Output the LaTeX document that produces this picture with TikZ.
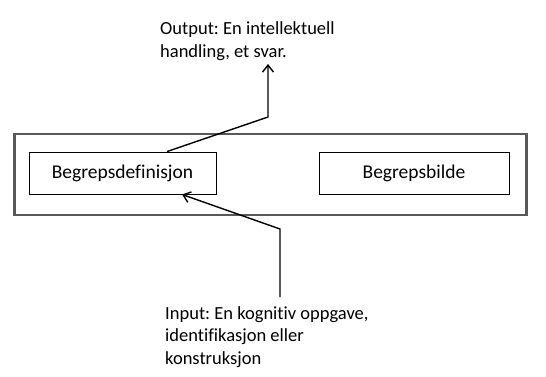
\documentclass[tikz,border=0pt]{standalone}
\usepackage{fontspec}
\setmainfont{Carlito}[Ligatures=NoCommon]
\frenchspacing
\usetikzlibrary{arrows.meta}
\begin{document}
\begin{tikzpicture}[x=1pt,y=-1pt,
  outerbox/.style={draw=black!65, line width=2.6pt, inner sep=0pt},
  box/.style={draw=black, line width=0.9pt, minimum height=42pt, inner sep=0pt, font=\fontsize{19.5}{23}\selectfont},
  lbl/.style={align=left, inner sep=0pt, font=\fontsize{18.5}{22.5}\selectfont},
  arr/.style={line width=1.4pt, -{Straight Barb[length=7pt,width=11pt,line width=1.4pt]}}]
\useasboundingbox (0,0) rectangle (546,376);
\node[outerbox, minimum width=512pt, minimum height=81pt, anchor=north west] (frame) at (13,132.5) {};
\node[box, minimum width=187pt] (def) at (122.5,173) {Begrepsdefinisjon};
\node[box, minimum width=190pt] (bilde) at (414,173) {Begrepsbilde};
\node[lbl, anchor=base west] (out) at (160,57) {Output: En intellektuell\\handling, et svar.};
\node[lbl, anchor=base west] (in) at (165,364) {Input: En kognitiv oppgave,\\identifikasjon eller\\konstruksjon};
\coordinate (obend) at (268,117);
\coordinate (otip) at (268,64);
\coordinate (ibend) at (280,229);
\coordinate (istart) at (280,297);
\draw[arr] (def.north -| 167,0) -- (obend) -- (otip);
\draw[arr] (istart) -- (ibend) -- (def.south -| 182,0);
\end{tikzpicture}
\end{document}
